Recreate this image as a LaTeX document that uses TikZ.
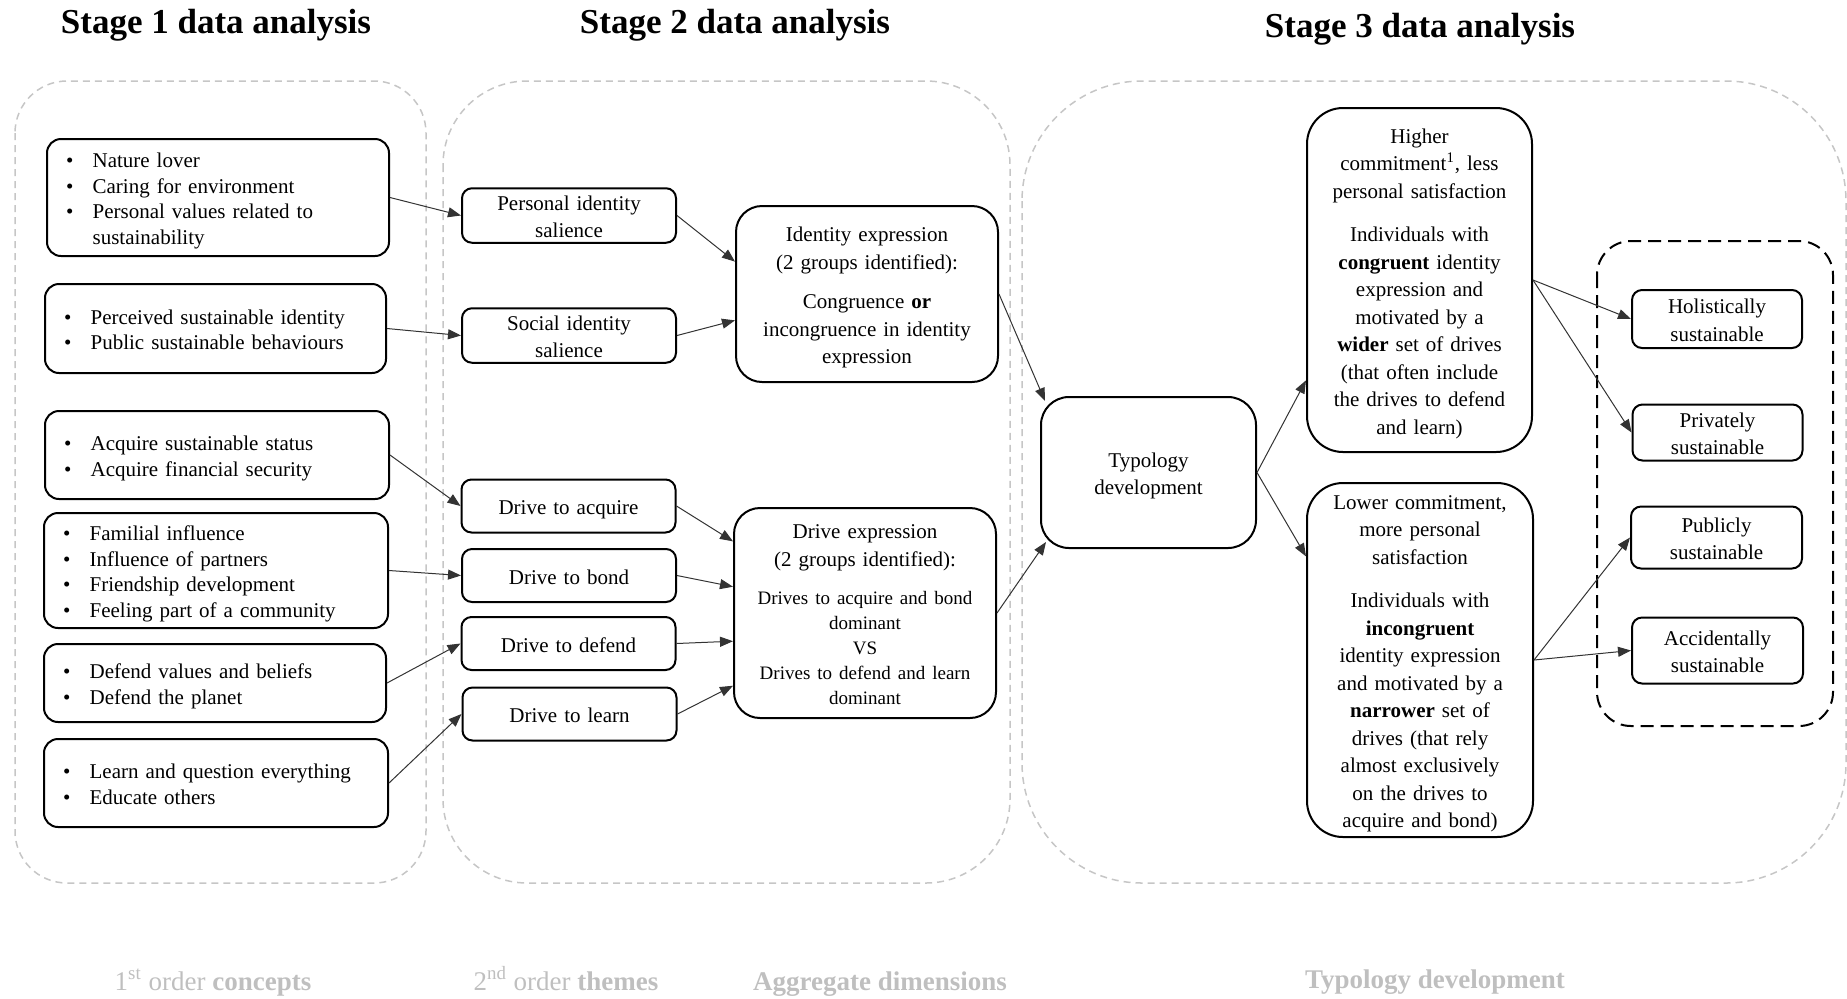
\documentclass[tikz,border=0pt]{standalone}
\usepackage{fontspec}
\setmainfont{Liberation Serif}
\usetikzlibrary{arrows.meta,calc}
\newcommand{\blt}{\hspace*{9.6pt}\makebox[13.2pt][l]{\textbullet}}
\newcommand{\bind}{\hspace*{22.8pt}}
\begin{document}
\begin{tikzpicture}[x=0.5pt,y=-0.5pt,
  every node/.style={font=\fontsize{10.5}{13.75}\selectfont},
  tx/.style={execute at begin node={\rule{0pt}{11pt}}, execute at end node={\rule[-2.5pt]{0pt}{0pt}}},
  cont/.style={draw=gray!45, line width=0.75pt, dash pattern=on 3.5pt off 2.5pt},
  lbox/.style={tx, draw, line width=1pt, rounded corners=7pt, inner xsep=0pt, inner ysep=0pt, align=left, font=\fontsize{10.5}{12.95}\selectfont},
  sbox/.style={tx, draw, line width=1pt, rounded corners=5pt, inner sep=0pt, align=center},
  rbox/.style={draw, line width=1pt, inner sep=0pt, align=center},
  bbox/.style={tx, rbox},
  conn/.style={draw=black!80, line width=0.5pt, -{Triangle[length=6.5pt,width=5pt]}},
  ttl/.style={font=\fontsize{17.5}{21}\selectfont\bfseries},
  foot/.style={text=gray!50, anchor=base, font=\fontsize{13.5}{16}\selectfont},
]
\useasboundingbox (0,0) rectangle (1847,998);

% containers
\draw[cont, rounded corners=26pt] (15,81) rectangle (426,883);
\draw[cont, rounded corners=42pt] (443,81) rectangle (1010,883);
\draw[cont, rounded corners=60pt] (1022,81) rectangle (1846,883);
\draw[line width=1pt, dash pattern=on 6.5pt off 3.5pt, rounded corners=17pt] (1597,241) rectangle (1833,726);

% titles
\node[ttl] (t1) at (216,25.5) {Stage 1 data analysis};
\node[ttl] (t2) at (735,25.5) {Stage 2 data analysis};
\node[ttl] (t3) at (1420,29.5) {Stage 3 data analysis};

% stage 1
\node[lbox, text width=171pt, minimum height=58.5pt] (a) at (218,197.5)
  {\blt Nature lover\\\blt Caring for environment\\\blt Personal values related to\\\bind sustainability};
\node[lbox, text width=170.5pt, minimum height=44.5pt] (b) at (215.5,328.5)
  {\blt Perceived sustainable identity\\\blt Public sustainable behaviours};
\node[lbox, text width=172pt, minimum height=44pt] (c) at (217,455)
  {\blt Acquire sustainable status\\\blt Acquire financial security};
\node[lbox, text width=172pt, minimum height=57.5pt] (d) at (216,570.5)
  {\blt Familial influence\\\blt Influence of partners\\\blt Friendship development\\\blt Feeling part of a community};
\node[lbox, text width=171pt, minimum height=39pt] (e) at (215,683)
  {\blt Defend values and beliefs\\\blt Defend the planet};
\node[lbox, text width=172pt, minimum height=44pt] (f) at (216,783)
  {\blt Learn and question everything\\\blt Educate others};

% stage 2
\node[sbox, text width=107pt, minimum height=26.5pt] (pis) at (569,215.5) {Personal identity\\salience};
\node[sbox, text width=107pt, minimum height=26.5pt] (sis) at (569,335.5) {Social identity\\salience};
\node[sbox, text width=107pt, minimum height=26.5pt] (dta) at (568.5,506) {Drive to acquire};
\node[sbox, text width=107pt, minimum height=26.5pt] (dtb) at (569,575.5) {Drive to bond};
\node[sbox, text width=107pt, minimum height=26.5pt] (dtd) at (568.5,643.5) {Drive to defend};
\node[sbox, text width=107pt, minimum height=26.5pt] (dtl) at (569.5,714) {Drive to learn};

\node[bbox, rounded corners=13pt, text width=131pt, minimum height=88pt] (ie) at (867,294)
  {Identity expression\\(2 groups identified):\\[6pt]Congruence \textbf{or}\\incongruence in identity\\expression};
\node[rbox, rounded corners=13pt, text width=131pt, minimum height=105pt] (de) at (865,613)
  {\rule{0pt}{11pt}Drive expression\\(2 groups identified):\par\vspace{6.3pt}{\fontsize{9.5}{12.5}\selectfont Drives to acquire and bond\\dominant\\VS\\Drives to defend and learn\\dominant\rule[-2.5pt]{0pt}{0pt}\par}};

% stage 3
\node[bbox, rounded corners=14pt, text width=107.5pt, minimum height=75.5pt] (td) at (1148.5,472.5) {Typology\\development};
\node[bbox, rounded corners=18pt, text width=112.5pt, minimum height=172pt] (hi) at (1419.5,280)
  {Higher\\commitment\textsuperscript{1}, less\\personal satisfaction\\[8pt]Individuals with\\\textbf{congruent} identity\\expression and\\motivated by a\\\textbf{wider} set of drives\\(that often include\\the drives to defend\\and learn)};
\node[bbox, rounded corners=18pt, text width=113pt, minimum height=177pt] (lo) at (1420,660)
  {Lower commitment,\\more personal\\satisfaction\\[8pt]Individuals with\\\textbf{incongruent}\\identity expression\\and motivated by a\\\textbf{narrower} set of\\drives (that rely\\almost exclusively\\on the drives to\\acquire and bond)};

\node[sbox, text width=85pt, minimum height=29pt] (hol) at (1717,319) {Holistically\\sustainable};
\node[sbox, text width=85pt, minimum height=28pt] (pri) at (1717.5,432.5) {Privately\\sustainable};
\node[sbox, text width=85.5pt, minimum height=31pt] (pub) at (1716.5,537.5) {Publicly\\sustainable};
\node[sbox, text width=85.5pt, minimum height=33pt] (acc) at (1717.5,650.5) {Accidentally\\sustainable};

% footer labels
\node[foot] (f1) at (213,990) {1\textsuperscript{st} order \textbf{concepts}};
\node[foot] (f2) at (566,990) {2\textsuperscript{nd} order \textbf{themes}};
\node[foot] (f3) at (880,990) {\textbf{Aggregate dimensions}};
\node[foot] (f4) at (1435,988) {\textbf{Typology development}};

% connectors
\draw[conn] (a.east) -- (pis.west);
\draw[conn] (b.east) -- (sis.west);
\draw[conn] (c.east) -- (dta.west);
\draw[conn] (d.east) -- (dtb.west);
\draw[conn] (e.east) -- (dtd.west);
\draw[conn] (f.east) -- (dtl.west);
\draw[conn] (pis.east) -- ($(ie.north west)!0.318!(ie.south west)$);
\draw[conn] (sis.east) -- ($(ie.north west)!0.648!(ie.south west)$);
\draw[conn] (dta.east) -- ($(de.north west)!0.162!(de.south west)$);
\draw[conn] (dtb.east) -- ($(de.north west)!0.376!(de.south west)$);
\draw[conn] (dtd.east) -- ($(de.north west)!0.633!(de.south west)$);
\draw[conn] (dtl.east) -- ($(de.north west)!0.843!(de.south west)$);
\draw[conn] (ie.east) -- ($(td.north west)+(5,5)$);
\draw[conn] (de.east) -- ($(td.south west)+(6,-7)$);
\draw[conn] (td.east) -- ($(hi.north west)!0.79!(hi.south west)$);
\draw[conn] (td.east) -- ($(lo.north west)!0.209!(lo.south west)$);
\draw[conn] (hi.east) -- (hol.west);
\draw[conn] (hi.east) -- (pri.west);
\draw[conn] (lo.east) -- (pub.west);
\draw[conn] (lo.east) -- (acc.west);
\end{tikzpicture}
\end{document}
